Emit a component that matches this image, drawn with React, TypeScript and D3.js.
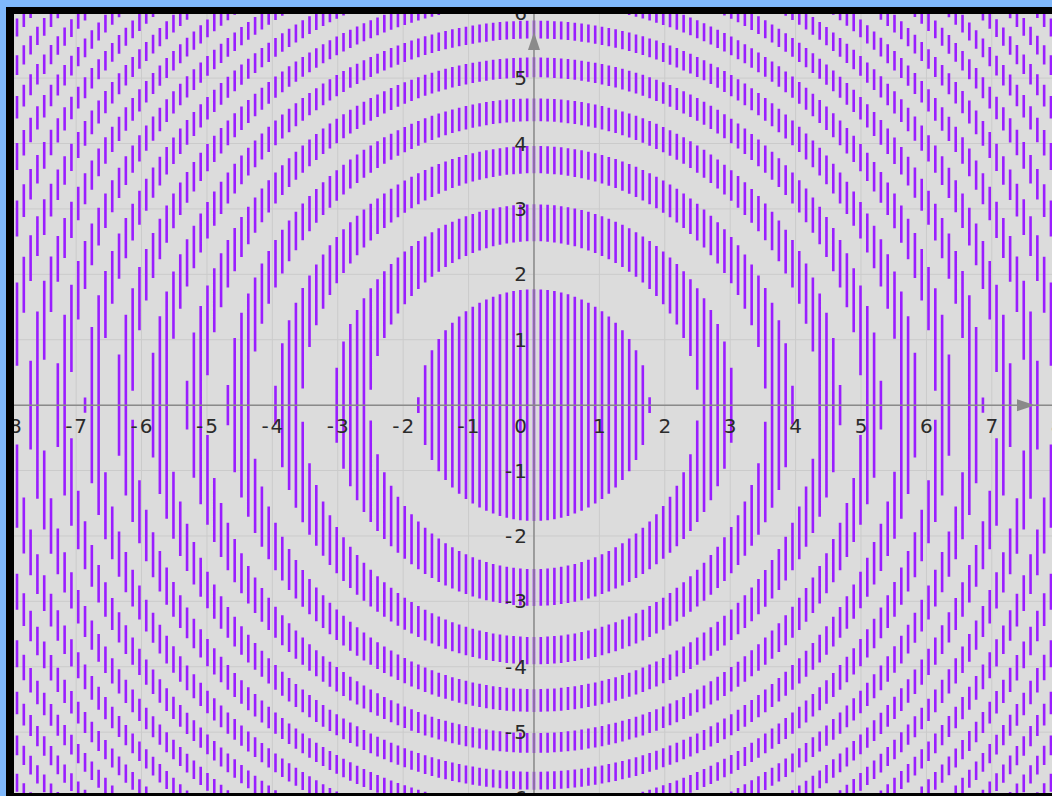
import React from 'react';
import * as d3 from 'd3';

// Visible window of the graphing view (data units)
const X_DOMAIN: [number, number] = [-7.95, 7.92];
const Y_DOMAIN: [number, number] = [-5.93, 5.98];

// Axis tick labels
const X_TICKS = [-8, -7, -6, -5, -4, -3, -2, -1, 1, 2, 3, 4, 5, 6, 7, 8];
const Y_TICKS = [-6, -5, -4, -3, -2, -1, 1, 2, 3, 4, 5, 6];
const GRID_X = [-8, -7, -6, -5, -4, -3, -2, -1, 0, 1, 2, 3, 4, 5, 6, 7, 8];
const GRID_Y = [-6, -5, -4, -3, -2, -1, 0, 1, 2, 3, 4, 5, 6];

// Shaded concentric rings (inner / outer radius, data units)
const RING_INNER = [0, 2.507, 3.545, 4.342, 5.013, 5.605, 6.14, 6.632, 7.09, 7.52, 7.927, 8.314, 8.683, 9.038, 9.379, 9.708, 10.027];
const RING_OUTER = [1.772, 3.07, 3.963, 4.69, 5.317, 5.879, 6.391, 6.865, 7.308, 7.726, 8.123, 8.5, 8.862, 9.21, 9.545, 9.869, 10.183];

// Spacing of the vertical hatch lines (data units)
const HATCH_STEP = 0.104;

const W = 1052;
const H = 796;
const PL = 14, PT = 14, PR = 1052, PB = 793;

export default function App() {
  const x = d3.scaleLinear().domain(X_DOMAIN).range([PL, PR]);
  const y = d3.scaleLinear().domain(Y_DOMAIN).range([PB, PT]);

  const p = d3.path();
  const kMin = Math.ceil(X_DOMAIN[0] / HATCH_STEP);
  const kMax = Math.floor(X_DOMAIN[1] / HATCH_STEP);
  const addSeg = (xv: number, a: number, b: number) => {
    const lo = Math.max(a, Y_DOMAIN[0]);
    const hi = Math.min(b, Y_DOMAIN[1]);
    if (hi <= lo) return;
    const px = x(xv);
    p.moveTo(px, y(hi));
    p.lineTo(px, y(lo));
  };
  for (let k = kMin; k <= kMax; k++) {
    const xv = k * HATCH_STEP;
    for (let i = 0; i < RING_OUTER.length; i++) {
      const o2 = RING_OUTER[i] * RING_OUTER[i] - xv * xv;
      if (o2 <= 0) continue;
      const yHi = Math.sqrt(o2);
      const i2 = RING_INNER[i] * RING_INNER[i] - xv * xv;
      if (i2 <= 0) {
        addSeg(xv, -yHi, yHi);
      } else {
        const yLo = Math.sqrt(i2);
        addSeg(xv, yLo, yHi);
        addSeg(xv, -yHi, -yLo);
      }
    }
  }

  const x0 = x(0);
  const y0 = y(0);
  const fmt = (v: number) => (v < 0 ? '-\u200A' + Math.abs(v) : String(v));
  const font = { fontFamily: '"DejaVu Sans", sans-serif', fontSize: 20, fill: '#2b2b2b' };

  return (
    <svg width={W} height={H} style={{ position: 'absolute', left: 0, top: 0, display: 'block' }}>
      <defs>
        <clipPath id="plot">
          <rect x={PL} y={PT} width={PR - PL} height={PB - PT} />
        </clipPath>
      </defs>
      <rect x={0} y={0} width={W} height={H} fill="#7fb8fb" />
      <rect x={6} y={7} width={W - 6} height={H - 7} fill="#000" />
      <rect x={PL} y={PT} width={PR - PL} height={PB - PT} fill="#dcdcdc" />
      <g clipPath="url(#plot)">
        {GRID_X.map((v) => (
          <line key={'gx' + v} x1={x(v)} x2={x(v)} y1={PT} y2={PB} stroke="#cbcbcb" strokeWidth={1} />
        ))}
        {GRID_Y.map((v) => (
          <line key={'gy' + v} y1={y(v)} y2={y(v)} x1={PL} x2={PR} stroke="#cbcbcb" strokeWidth={1} />
        ))}
        <path d={p.toString()} stroke="#9a1eff" strokeWidth={2.6} fill="none" />
        <line x1={PL} x2={PR} y1={y0} y2={y0} stroke="#8a8a8a" strokeWidth={1.5} />
        <line x1={x0} x2={x0} y1={PT} y2={PB} stroke="#8a8a8a" strokeWidth={1.5} />
        <path d={`M${x0},${PT + 18} L${x0 - 6},${PT + 36} L${x0 + 6},${PT + 36} Z`} fill="#8a8a8a" />
        <path d={`M${PR - 17},${y0} L${PR - 35},${y0 - 6} L${PR - 35},${y0 + 6} Z`} fill="#8a8a8a" />
        {X_TICKS.map((v) => (
          <text key={'tx' + v} x={x(v)} y={y0 + 28} textAnchor="middle" {...font}>
            {fmt(v)}
          </text>
        ))}
        <text x={x0 - 7} y={y0 + 28} textAnchor="end" {...font}>0</text>
        {Y_TICKS.map((v) => (
          <text key={'ty' + v} x={x0 - 7} y={y(v) + 7} textAnchor="end" {...font}>
            {fmt(v)}
          </text>
        ))}
      </g>
    </svg>
  );
}
